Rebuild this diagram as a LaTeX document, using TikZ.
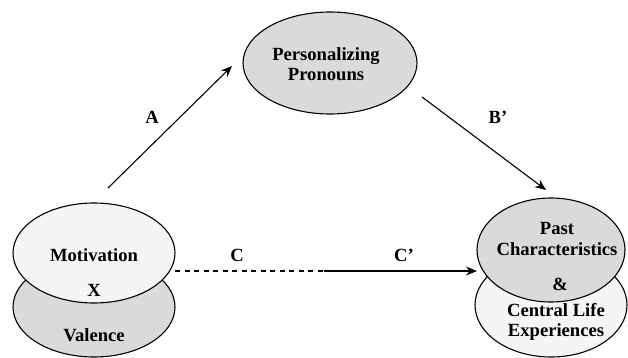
\documentclass[tikz,border=0pt]{standalone}
\usepackage{fontspec}
\setmainfont{Liberation Serif}
\usetikzlibrary{shapes.geometric,arrows.meta}
\definecolor{dkfill}{HTML}{DADADA}
\definecolor{ltfill}{HTML}{F5F5F5}
\tikzset{
  oval/.style={ellipse, draw=black, line width=1.1pt, inner sep=0pt},
  txt/.style={font=\fontsize{18.6}{20.5}\selectfont\bfseries, align=center, inner sep=0pt},
  arr/.style={line width=1.1pt, -{Stealth[length=11pt,width=9pt]}},
  dsh/.style={line width=1.1pt, dash pattern=on 5pt off 4.5pt}
}
\begin{document}
\begin{tikzpicture}[x=1pt,y=-1pt]
\useasboundingbox (0,0) rectangle (628,358);
% top
\node[oval, fill=dkfill, minimum width=174pt, minimum height=102pt] (pers) at (330,63) {};
\node[txt] (perst) at (326,64) {Personalizing\\Pronouns};
% left
\node[oval, fill=dkfill, minimum width=162pt, minimum height=100pt] (val) at (94,307) {};
\node[oval, fill=ltfill, minimum width=162pt, minimum height=100pt] (mot) at (94,253) {};
\node[txt] (mott) at (94,255) {Motivation};
\node[txt] (xt) at (94,290) {X};
\node[txt] (valt) at (94,335) {Valence};
% right
\node[oval, fill=ltfill, minimum width=152pt, minimum height=104pt] (cle) at (551,305) {};
\node[oval, fill=dkfill, minimum width=148pt, minimum height=104pt] (past) at (551,250) {};
\node[txt] (pastt) at (557,239) {Past\\Characteristics};
\node[txt] (amp) at (560,284) {\&};
\node[txt] (clet) at (556,322) {Central Life\\Experiences};
% connectors
\coordinate (a1) at (108,188);
\coordinate (a2) at (232,66);
\coordinate (b1) at (422,97);
\coordinate (b2) at (546,190);
\coordinate (c1) at (175,271);
\coordinate (cm) at (324,271);
\coordinate (c2) at (477,271);
\draw[arr] (a1) -- (a2);
\draw[arr] (b1) -- (b2);
\draw[dsh] (c1) -- (cm);
\draw[arr] (cm) -- (c2);
% labels
\node[txt] (la) at (152,117) {A};
\node[txt] (lb) at (498,117) {B’};
\node[txt] (lc) at (237,255) {C};
\node[txt] (lc2) at (404,255) {C’};
\end{tikzpicture}
\end{document}
